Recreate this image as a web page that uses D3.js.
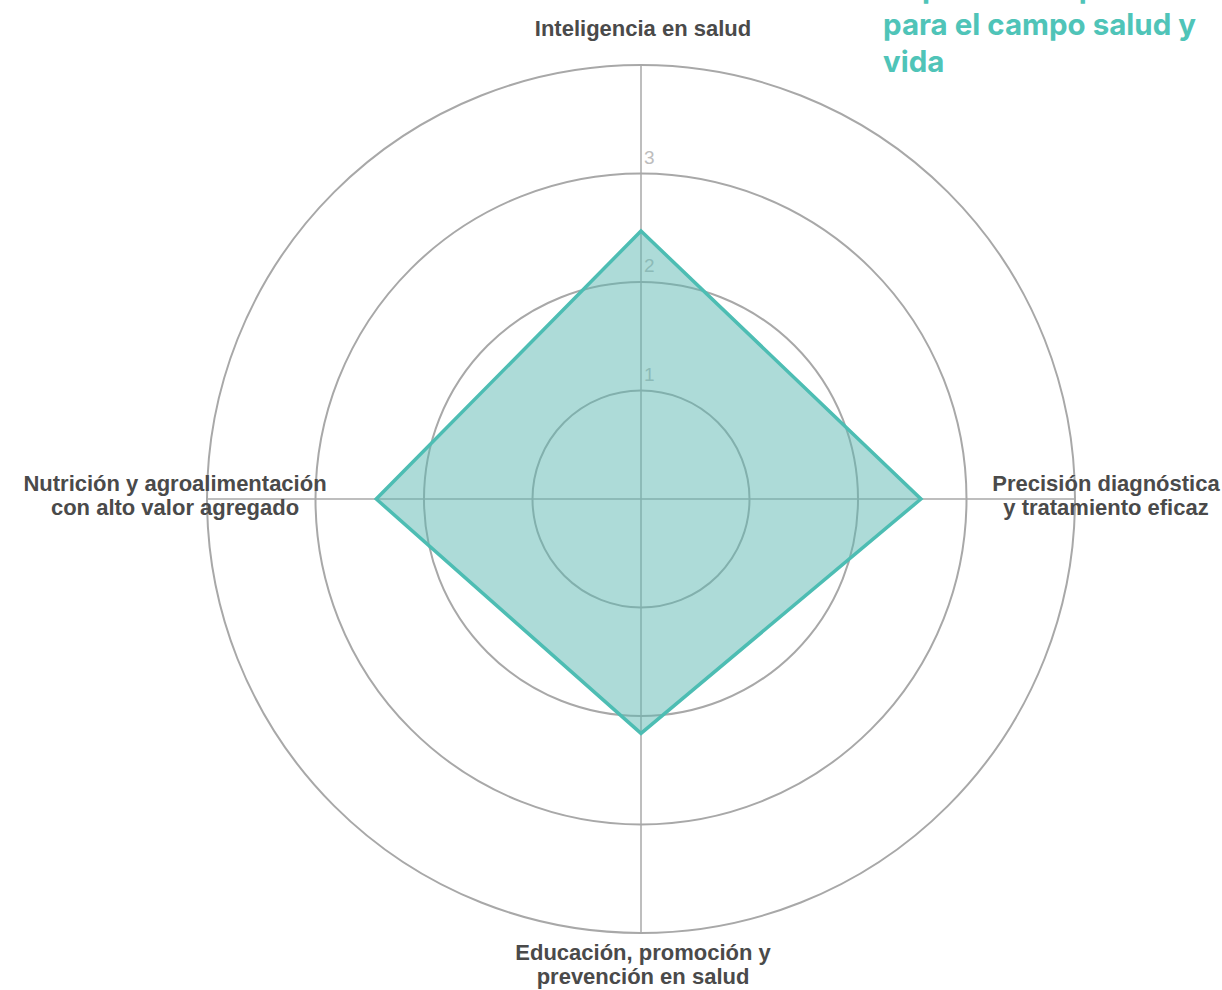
<!DOCTYPE html>
<html>
<head>
<meta charset="utf-8">
<script src="https://cdn.jsdelivr.net/npm/d3@7"></script>
<style>
  html, body { margin: 0; padding: 0; background: #fff; }
  svg { display: block; }
</style>
</head>
<body>
<svg id="chart" width="1222" height="990"></svg>
<script>
// datos del radar
const ejes = [
  ["Inteligencia en salud"],
  ["Precisión diagnóstica", "y tratamiento eficaz"],
  ["Educación, promoción y", "prevención en salud"],
  ["Nutrición y agroalimentación", "con alto valor agregado"]
];
const valores = [2.47, 2.58, 2.16, 2.44];
const niveles = [1, 2, 3, 4];
const etiquetasNivel = ["1", "2", "3"];
const titulo = ["Capacidades priorizadas", "para el campo salud y", "vida"];

const width = 1222, height = 990;
const cx = 641, cy = 499;
const maxR = 434;

const svg = d3.select("#chart");

const r = d3.scaleLinear().domain([0, 4]).range([0, maxR]);
const ang = d3.scaleLinear().domain([0, ejes.length]).range([0, 2 * Math.PI]);

const g = svg.append("g").attr("transform", `translate(${cx},${cy})`);

// circulos de la grilla
g.selectAll("circle.nivel").data(niveles).enter().append("circle")
  .attr("class", "nivel")
  .attr("r", d => r(d))
  .attr("fill", "none")
  .attr("stroke", "#a8a8a8")
  .attr("stroke-width", 2);

// ejes
g.selectAll("line.eje").data(ejes).enter().append("line")
  .attr("x1", 0).attr("y1", 0)
  .attr("x2", (d, i) => r(4) * Math.sin(ang(i)))
  .attr("y2", (d, i) => -r(4) * Math.cos(ang(i)))
  .attr("stroke", "#a8a8a8")
  .attr("stroke-width", 1.5);

// etiquetas de nivel
g.selectAll("text.nivel").data(etiquetasNivel).enter().append("text")
  .attr("x", 3)
  .attr("y", (d, i) => -r(i + 1) - 10)
  .attr("font-family", "Liberation Sans, Arial, sans-serif")
  .attr("font-size", 19)
  .attr("fill", "#bdbdbd")
  .text(d => d);

// poligono
const radar = d3.lineRadial()
  .angle((d, i) => ang(i))
  .radius(d => r(d))
  .curve(d3.curveLinearClosed);

g.append("path")
  .datum(valores)
  .attr("d", radar)
  .attr("fill", "#5bb8b2")
  .attr("fill-opacity", 0.5)
  .attr("stroke", "#4dbdb3")
  .attr("stroke-width", 3.5)
  .attr("stroke-linejoin", "miter");

// etiquetas de ejes
const posEtiqueta = [
  { x: 2, y: 36 - cy },
  { x: 465, y: 491 - cy },
  { x: 2, y: 960 - cy },
  { x: -466, y: 491 - cy }
];
ejes.forEach((lineas, i) => {
  const t = g.append("text")
    .attr("x", posEtiqueta[i].x)
    .attr("y", posEtiqueta[i].y)
    .attr("text-anchor", "middle")
    .attr("font-family", "Liberation Sans, Arial, sans-serif")
    .attr("font-weight", "bold")
    .attr("font-size", 22)
    .attr("fill", "#4a4a4a");
  lineas.forEach((l, j) => {
    t.append("tspan").attr("x", posEtiqueta[i].x).attr("dy", j === 0 ? 0 : 24).text(l);
  });
});

// titulo (recortado arriba)
const tt = svg.append("text")
  .attr("x", 883)
  .attr("y", -2)
  .attr("font-family", "Inter, Open Sans, sans-serif")
  .attr("font-weight", "bold")
  .attr("font-size", 29.5)
  .attr("fill", "#4fc4b8");
titulo.forEach((l, j) => {
  tt.append("tspan").attr("x", 883).attr("dy", j === 0 ? 0 : 37).text(l);
});
</script>
</body>
</html>
